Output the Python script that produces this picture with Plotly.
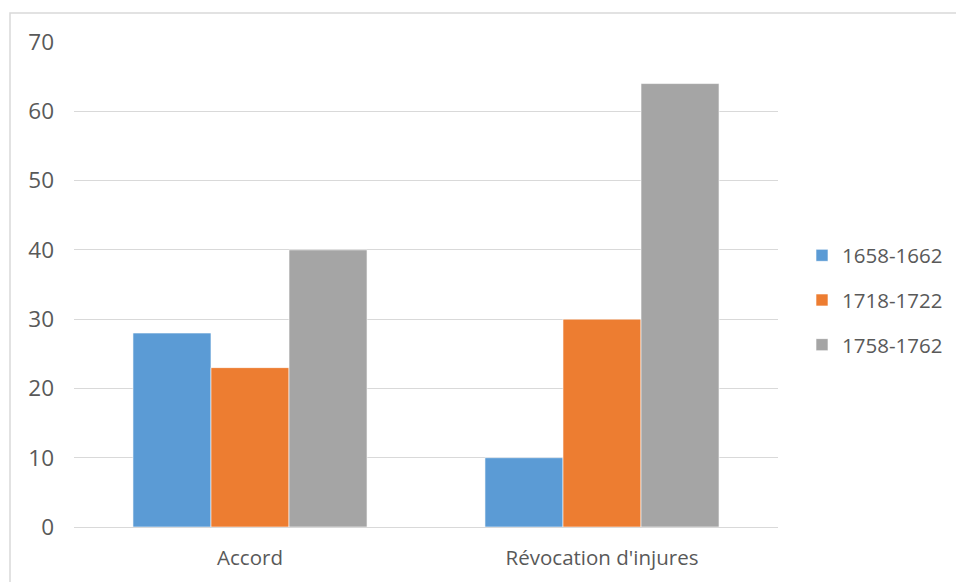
import plotly.graph_objects as go

categories = ["Accord", "Révocation d'injures"]
periods = ["1658-1662", "1718-1722", "1758-1762"]
values_1658 = [28, 10]
values_1718 = [23, 30]
values_1758 = [40, 64]
series = [values_1658, values_1718, values_1758]
colors = ["#5B9BD5", "#ED7D31", "#A5A5A5"]
y_ticks = [0, 10, 20, 30, 40, 50, 60, 70]

W, H = 956, 582
L, R, T, B = 74, 178, 42, 55
pw, ph = W - L - R, H - T - B

fig = go.Figure()
for name, vals, col in zip(periods, series, colors):
    fig.add_trace(go.Bar(
        x=categories, y=vals, name=name, legendgroup=name,
        marker=dict(color=col, line=dict(color="rgba(255,255,255,0.6)", width=1)),
    ))

def px_x(p):
    return (p - L) / pw

def px_y(p):
    return (H - B - p) / ph

fig.update_layout(
    width=W, height=H,
    margin=dict(l=L, r=R, t=T, b=B, autoexpand=False),
    paper_bgcolor="white", plot_bgcolor="white",
    barmode="group", bargap=0.335, bargroupgap=0,
    font=dict(family="Open Sans", color="#595959"),
    legend=dict(
        x=px_x(802), y=px_y(300), xanchor="left", yanchor="middle",
        font=dict(size=20.5, color="#595959"), tracegroupgap=15, itemwidth=30,
        bgcolor="rgba(0,0,0,0)",
    ),
    xaxis=dict(
        showgrid=False, showline=False, zeroline=False,
        tickfont=dict(size=20.5, color="#595959"), ticklabelstandoff=16,
    ),
    yaxis=dict(
        range=[0, 70], tickvals=y_ticks, showgrid=True, gridcolor="#D9D9D9",
        gridwidth=1.3, zeroline=True, zerolinecolor="#D9D9D9", zerolinewidth=1.3,
        showline=False, tickfont=dict(size=22.5, color="#595959"), ticklabelstandoff=19,
    ),
    shapes=[dict(
        type="rect", xref="paper", yref="paper",
        x0=px_x(10), x1=px_x(975), y0=px_y(13), y1=px_y(600),
        line=dict(color="#D9D9D9", width=1.5), fillcolor="rgba(0,0,0,0)", layer="below",
    )],
)

fig.write_html("out.html")
